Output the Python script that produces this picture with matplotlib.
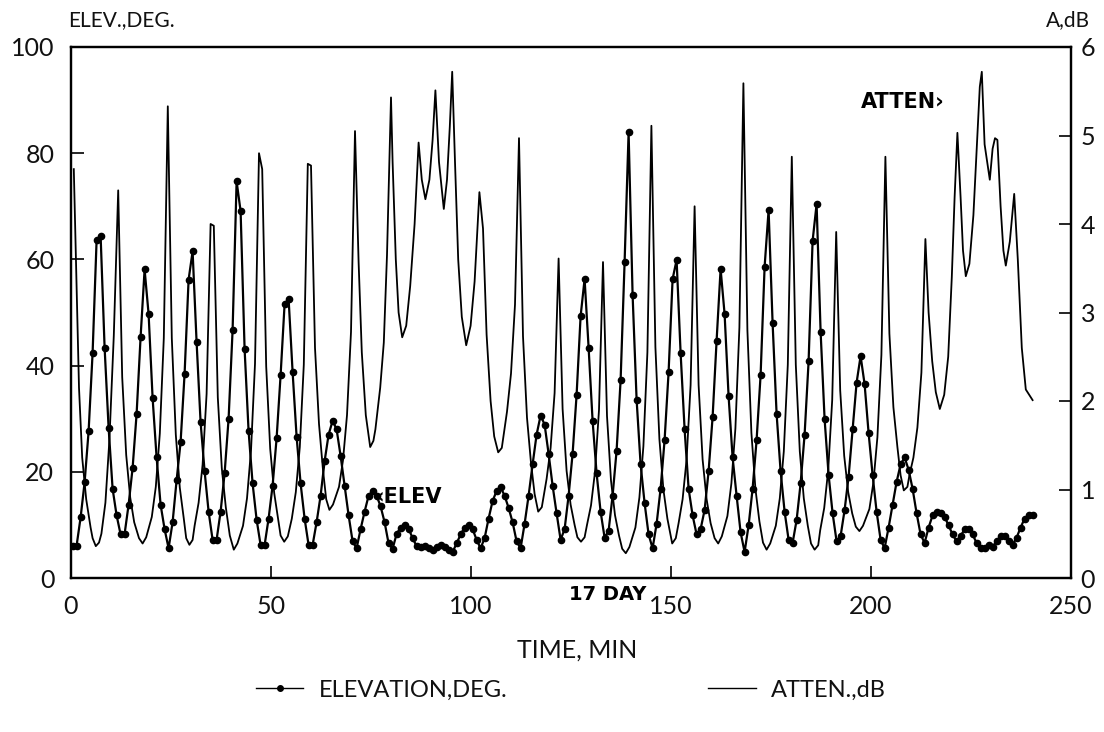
import numpy as np
import matplotlib
matplotlib.use("Agg")
import matplotlib.pyplot as plt
from matplotlib.lines import Line2D

# ---- sampling of the record (one sample per minute) ----
SAMPLE_START = 0.4   # min
SAMPLE_STEP = 1.0    # min

# ---- elevation, deg (one value per sample) ----
elevation_deg = [
    6.1, 6.1, 11.4, 18.0, 27.6, 42.4, 63.6, 64.5, 43.4, 28.3, 16.8, 11.8, 8.2, 8.3,
    13.8, 20.7, 30.9, 45.4, 58.1, 49.7, 33.9, 22.7, 13.8, 9.2, 5.6,
    10.5, 18.4, 25.6, 38.5, 56.2, 61.5, 44.4, 29.3, 20.1, 12.5, 7.2, 7.2,
    12.5, 19.7, 30.0, 46.7, 74.7, 69.1, 43.1, 27.6, 17.8, 11.0, 6.2, 6.2,
    11.2, 17.4, 26.3, 38.2, 51.6, 52.6, 38.8, 26.6, 17.8, 11.2, 6.2, 6.2,
    10.5, 15.5, 22.0, 27.0, 29.6, 28.0, 23.0, 17.4, 11.8, 6.9, 5.6, 9.2, 12.5,
    15.5, 16.4, 15.5, 13.5, 10.5, 6.5, 5.5, 8.3, 9.5, 9.9, 9.3, 7.5, 6.0, 5.8,
    6.0, 5.6, 5.3, 5.8, 6.3, 5.8, 5.2, 4.9, 6.5, 8.2, 9.5, 9.9, 9.2, 7.2, 5.6,
    7.5, 11.2, 14.5, 16.4, 17.1, 15.5, 13.2, 10.5,
    6.9, 5.6, 10.2, 15.5, 21.4, 27.0, 30.6, 28.9, 23.4, 17.4, 12.2, 7.2,
    9.2, 15.5, 23.4, 34.5, 49.3, 56.3, 43.4, 29.6, 19.7, 12.5, 7.6,
    8.9, 15.5, 24.0, 37.2, 59.5, 83.9, 53.3, 33.6, 21.4, 14.1, 8.2, 5.6,
    10.2, 16.8, 26.0, 38.8, 56.3, 59.9, 42.4, 28.0, 16.8, 11.8, 8.2,
    9.2, 12.8, 20.1, 30.3, 44.7, 58.2, 49.7, 34.2, 22.7, 15.5, 8.6, 4.9,
    9.9, 16.8, 26.0, 38.2, 58.6, 69.3, 48.0, 30.9, 20.1, 12.5, 7.2, 6.6,
    10.9, 17.8, 27.0, 40.8, 63.5, 70.4, 46.4, 29.9, 19.4, 12.2, 6.9,
    7.9, 12.8, 19.1, 28.0, 36.8, 41.8, 36.5, 27.3, 19.4, 12.5, 7.2, 5.6,
    9.5, 13.8, 18.1, 21.4, 22.7, 20.4, 16.8, 12.2, 8.2, 6.6,
    9.5, 11.8, 12.5, 12.3, 11.5, 9.9, 8.2, 6.9, 7.9, 9.2, 9.2, 8.2, 6.6, 5.6,
    5.6, 6.3, 5.9, 6.9, 7.9, 7.9, 6.9, 6.3, 7.6, 9.5, 11.2, 11.8, 11.8,
]

# ---- attenuation, dB: (position in sample units, value) ----
atten_pos = [
    0.3, 1.6, 2.4, 3.4, 4.5, 5.0, 5.8, 6.6, 7.2, 8.2, 9.2, 10.3, 11.4,
    12.4, 13.4, 14.4, 15.4, 16.6, 17.5,
    18.4, 19.8, 20.8, 21.8, 22.8, 23.8,
    24.8, 25.8, 26.8, 27.8, 28.4, 29.2,
    30.0, 30.5, 31.5, 32.5, 33.5, 34.5, 35.3,
    36.3, 37.3, 38.3, 39.3, 40.3,
    41.2, 42.6, 43.6, 44.6, 45.6, 46.6, 47.4,
    48.4, 49.4, 50.4, 51.4, 52.0, 52.9,
    53.8, 54.8, 55.8, 56.8, 57.8, 58.8, 59.6,
    60.6, 61.6, 62.6, 63.4, 64.2,
    65.1, 66.6, 67.6, 68.6, 69.6, 70.6,
    71.5, 72.3, 73.3, 74.4,
    75.2, 75.7, 76.9, 77.8, 78.6, 79.6,
    80.0, 80.8, 81.5, 82.4,
    83.4, 84.4, 85.5, 86.5,
    87.3, 88.2,
    89.2, 90.0, 90.7,
    91.6, 92.8,
    93.6, 94.3, 94.9,
    95.6, 96.4, 97.3, 98.4,
    99.5, 100.5, 101.7, 102.6,
    103.5, 104.5, 105.4, 106.4,
    107.3, 108.6, 109.6, 110.6, 111.6,
    112.6, 113.6, 114.6, 115.5, 116.4,
    117.3, 118.5, 119.5, 120.5, 121.5,
    122.5, 123.5, 124.5, 125.5, 126.2, 127.1,
    128.0, 128.6, 129.6, 130.6, 131.6, 132.6,
    133.6, 134.6, 135.6, 136.6, 137.4, 138.3,
    139.2, 140.7, 141.7, 142.7, 143.7, 144.7,
    145.7, 146.7, 147.7, 148.7, 149.9,
    150.8, 151.5, 152.5, 153.5, 154.5, 155.5,
    156.5, 157.5, 158.5, 159.5, 160.5, 161.4,
    162.3, 163.7, 164.7, 165.7, 166.7, 167.7,
    168.7, 169.7, 170.7, 171.7, 172.6, 173.5,
    174.4, 175.8, 176.8, 177.8, 178.8, 179.8,
    180.8, 181.8, 182.8, 183.8, 184.6, 185.5,
    186.4, 186.9, 187.9, 188.9, 189.9, 190.9,
    191.9, 192.9, 193.9, 194.9, 195.8, 196.7,
    197.6, 199.2, 200.2, 201.2, 202.2, 203.2,
    204.2, 205.2, 206.2, 207.0, 207.8,
    208.7, 209.2, 210.2, 211.2, 212.2, 213.2,
    214.0, 214.9, 215.8, 216.8,
    217.9, 218.9, 219.8, 220.5, 221.2,
    222.0, 222.6, 223.3,
    224.2, 225.2, 226.2, 226.8, 227.3,
    228.0, 229.3,
    230.0, 230.6, 231.2,
    232.0, 232.7, 233.3,
    234.3, 235.4,
    236.3, 237.3, 238.3, 240.0,
]
atten_db = [
    4.62, 2.15, 1.36, 0.89, 0.57, 0.45, 0.36, 0.40, 0.50, 0.85, 1.56, 2.74, 4.38,
    2.27, 1.39, 0.91, 0.63, 0.45, 0.39,
    0.46, 0.69, 1.03, 1.63, 2.71, 5.33,
    2.71, 1.62, 1.02, 0.67, 0.45, 0.375,
    0.43, 0.59, 0.85, 1.28, 2.08, 4.00, 3.98,
    2.04, 1.24, 0.80, 0.48, 0.32,
    0.39, 0.59, 0.90, 1.44, 2.42, 4.80, 4.62,
    2.39, 1.46, 0.96, 0.66, 0.48, 0.41,
    0.47, 0.67, 0.97, 1.48, 2.41, 4.68, 4.66,
    2.60, 1.74, 1.22, 0.89, 0.77,
    0.83, 1.03, 1.33, 1.84, 2.78, 5.05,
    3.57, 2.55, 1.84, 1.48,
    1.55, 1.68, 2.15, 2.66, 3.65, 5.43,
    4.70, 3.60, 3.00, 2.72,
    2.85, 3.30, 4.00, 4.92,
    4.50, 4.28,
    4.50, 4.95, 5.51,
    4.70, 4.17,
    4.50, 5.10, 5.72,
    4.70, 3.60, 2.95, 2.63,
    2.85, 3.35, 4.36, 3.95,
    2.75, 2.00, 1.60, 1.42,
    1.47, 1.88, 2.31, 3.09, 4.97,
    2.73, 1.81, 1.30, 0.95, 0.75,
    0.80, 1.12, 1.47, 2.09, 3.61,
    1.91, 1.21, 0.83, 0.60, 0.46, 0.41,
    0.46, 0.60, 0.82, 1.20, 1.90, 3.57,
    1.83, 1.10, 0.71, 0.48, 0.33, 0.28,
    0.35, 0.57, 0.91, 1.49, 2.55, 5.11,
    2.61, 1.57, 1.00, 0.67, 0.39,
    0.45, 0.62, 0.89, 1.34, 2.18, 4.20,
    2.18, 1.34, 0.89, 0.62, 0.45, 0.39,
    0.47, 0.70, 1.07, 1.69, 2.83, 5.59,
    2.80, 1.64, 1.01, 0.64, 0.40, 0.32,
    0.39, 0.59, 0.90, 1.43, 2.41, 4.76,
    2.41, 1.43, 0.90, 0.59, 0.39, 0.32,
    0.37, 0.54, 0.79, 1.22, 2.01, 3.91,
    2.12, 1.38, 0.97, 0.73, 0.58, 0.53,
    0.59, 0.78, 1.08, 1.59, 2.52, 4.76,
    2.76, 1.93, 1.48, 1.16, 0.99,
    1.03, 1.16, 1.36, 1.70, 2.32, 3.83,
    3.00, 2.45, 2.10, 1.91,
    2.07, 2.50, 3.40, 4.30, 5.03,
    4.30, 3.70, 3.41,
    3.55, 4.10, 5.00, 5.55, 5.72,
    4.90, 4.50,
    4.85, 4.97, 4.95,
    4.20, 3.70, 3.53,
    3.80, 4.34,
    3.60, 2.60, 2.13, 2.01,
]

x_ticks = [0, 50, 100, 150, 200, 250]
elev_ticks = [0, 20, 40, 60, 80, 100]
atten_ticks = [0, 1, 2, 3, 4, 5, 6]

t_elev = SAMPLE_START + SAMPLE_STEP * np.arange(len(elevation_deg))
t_att = SAMPLE_START + SAMPLE_STEP * np.asarray(atten_pos)

plt.rcParams["font.family"] = ["Lato", "DejaVu Sans"]

fig = plt.figure(figsize=(11.04, 7.32), dpi=100)
ax = fig.add_axes([71 / 1104, 1 - 578 / 732, 1000 / 1104, 531 / 732])
ax2 = ax.twinx()

ax.plot(t_elev, elevation_deg, "-", color="black", lw=1.6,
        marker="o", ms=4.5, mec="black", mfc="black", zorder=3)
ax2.plot(t_att, atten_db, "-", color="black", lw=1.3, zorder=2)

ax.set_xlim(0, 250)
ax.set_ylim(0, 100)
ax2.set_ylim(0, 6)

tick_font = dict(fontsize=18, fontweight="normal", color="#111111")
ax.set_xticks(x_ticks)
ax.set_xticklabels([str(v) for v in x_ticks], **tick_font)
ax.set_yticks(elev_ticks)
ax.set_yticklabels([str(v) for v in elev_ticks], **tick_font)
ax2.set_yticks(atten_ticks)
ax2.set_yticklabels([str(v) for v in atten_ticks], **tick_font)

ax.tick_params(axis="x", direction="in", length=9, width=1.2, pad=12, top=False)
ax.tick_params(axis="y", direction="in", length=9, width=1.2, pad=12, right=False)
ax2.tick_params(axis="y", direction="in", length=9, width=1.2, pad=7)

for a in (ax, ax2):
    for s in a.spines.values():
        s.set_linewidth(1.6)
        s.set_color("black")

# axis titles
fig.text(68 / 1104, 1 - 20 / 732, "ELEV.,DEG.", fontsize=15, ha="left", va="center",
         color="#111111")
fig.text(1090 / 1104, 1 - 20 / 732, "A,dB", fontsize=15, ha="right", va="center",
         color="#111111")
fig.text(577 / 1104, 1 - 650 / 732, "TIME, MIN", fontsize=18, ha="center",
         va="center", color="#111111")

# annotations
ax.text(76.0, 15.3, "\u2039ELEV", fontsize=15, fontweight="bold", ha="left",
        va="center", family=["DejaVu Sans"], zorder=5)
ax.text(197.5, 89.6, "ATTEN\u203a", fontsize=15, fontweight="bold", ha="left",
        va="center", family=["DejaVu Sans"])
ax.text(0.537, -0.032, "17 DAY", transform=ax.transAxes, fontsize=14,
        fontweight="bold", ha="center", va="center", family=["DejaVu Sans"])

# legend
handles = [
    Line2D([], [], color="black", lw=1.0, marker="o", ms=4),
    Line2D([], [], color="black", lw=1.0),
]
fig.legend(handles, ["ELEVATION,DEG.", "ATTEN.,dB"], loc="center",
           bbox_to_anchor=(571 / 1104, 1 - 690 / 732), ncol=2, frameon=False,
           handlelength=2.0, columnspacing=8.5, handletextpad=0.65,
           prop=dict(size=17), labelcolor="#111111")

fig.savefig("out.png", dpi=100)
